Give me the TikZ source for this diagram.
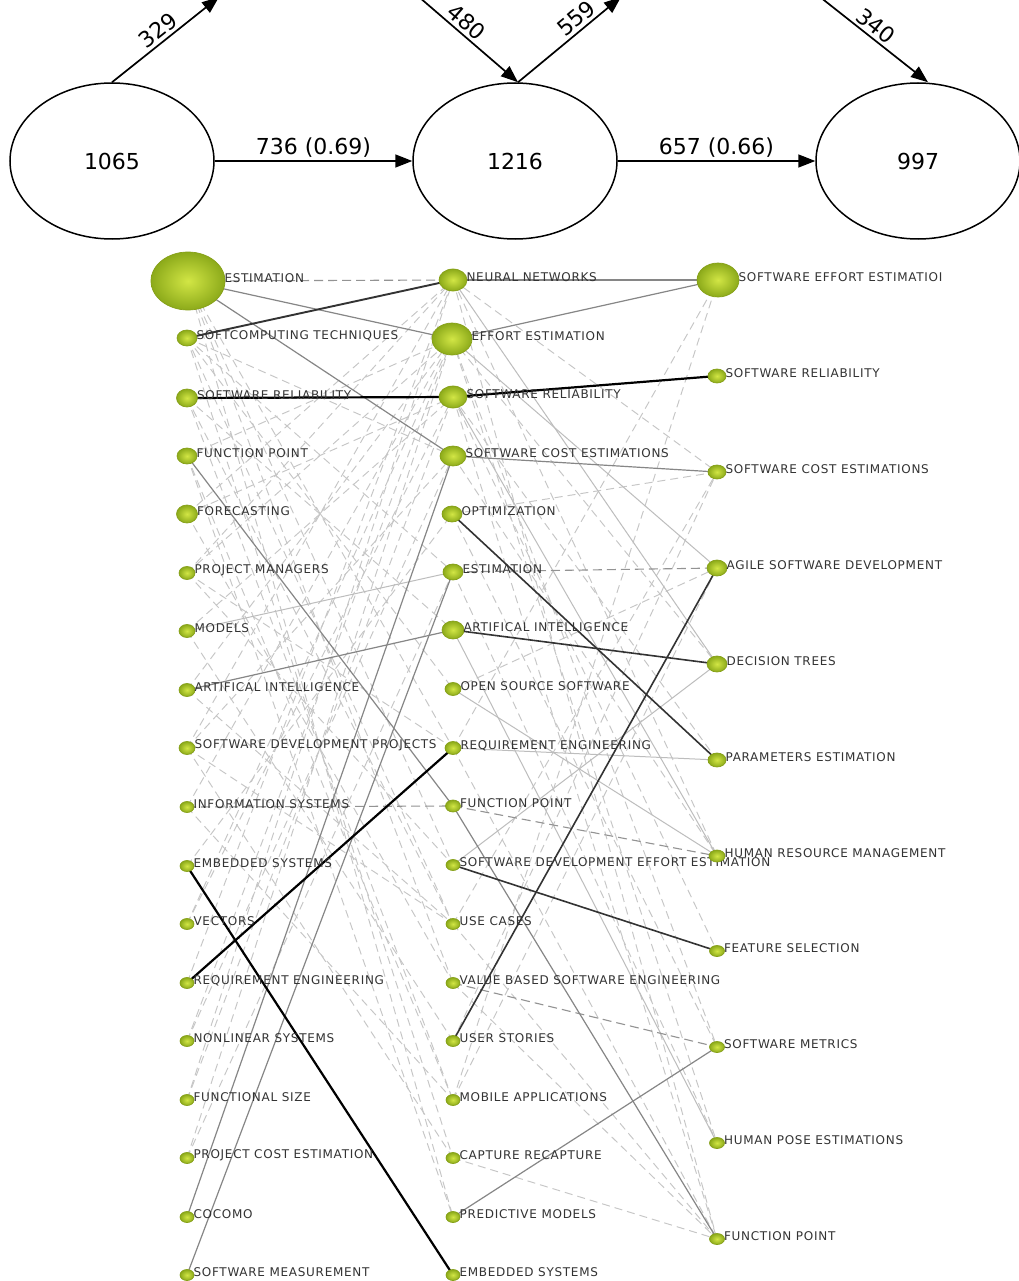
\documentclass[tikz,border=0pt]{standalone}
\usepackage{fontspec}
\setmainfont{DejaVu Sans}
\newfontfamily\labfont[LetterSpace=6]{DejaVu Sans}
\usetikzlibrary{shapes.geometric,arrows.meta}
\pgfdeclarelayer{bg}
\pgfdeclarelayer{paper}
\pgfsetlayers{paper,bg,main}
\definecolor{labgray}{HTML}{333333}
\definecolor{ballin}{HTML}{D2E645}
\definecolor{ballout}{HTML}{8CAA1A}
\definecolor{ballrim}{HTML}{86A018}
\definecolor{lightdash}{HTML}{C6C6C6}
\definecolor{lightline}{HTML}{BDBDBD}
\definecolor{midline}{HTML}{868686}
\definecolor{middash}{HTML}{939393}
\definecolor{darkline}{HTML}{333333}
\tikzset{
  bigell/.style={ellipse, draw=black, line width=1.5pt, minimum width=204pt, minimum height=156pt, inner sep=0pt, font=\fontsize{22}{26}\selectfont},
  flow/.style={line width=1.7pt, -{Triangle[length=17pt,width=13pt]}},
  flowlab/.style={font=\fontsize{22}{26}\selectfont, inner sep=3pt},
  gball/.style={ellipse, inner sep=0pt, draw=ballrim, line width=0.7pt, shading=radial, inner color=ballin, outer color=ballout},
  lab/.style={font=\labfont\fontsize{12}{14}\selectfont, text=labgray, inner sep=0pt, anchor=west},
  e0/.style={draw=lightdash, line width=0.95pt, dash pattern=on 8pt off 5pt},
  e1/.style={draw=lightline, line width=1pt},
  e2/.style={draw=midline, line width=1.2pt},
  e3/.style={draw=darkline, line width=1.6pt},
  e4/.style={draw=black, line width=2.2pt},
  ed/.style={draw=middash, line width=1.1pt, dash pattern=on 9pt off 5pt}
}
\newcommand\gnode[6]{%
  \node[gball, minimum width=#4pt, minimum height=#5pt] (#1) at (#2,#3) {};
  \node[lab] (#1t) at ([xshift=-1pt,yshift=2.5pt]#1.east) {#6};
}
\begin{document}
\begin{tikzpicture}[x=1pt,y=-1pt]
\useasboundingbox (0,0) rectangle (1018,1281);
\begin{pgfonlayer}{paper}
\fill[white] (0,0) rectangle (1018,1281);
\end{pgfonlayer}

% ---------- top flow ----------
\node[bigell] (E1) at (112,161) {1065};
\node[bigell] (E2) at (515,161) {1216};
\node[bigell] (E3) at (918,161) {997};
\coordinate (T1) at (219,-3);
\coordinate (T2) at (419,-3);
\coordinate (T3) at (621,-3);
\coordinate (T4) at (820,-3);
\draw[flow] (E1.east) -- node[flowlab, above] {736 (0.69)} (E2.west);
\draw[flow] (E2.east) -- node[flowlab, above] {657 (0.66)} (E3.west);
\draw[flow] (E1.north) -- node[flowlab, sloped, above, pos=0.5] {329} (T1);
\draw[flow] (T2) -- node[flowlab, sloped, above, pos=0.4] {480} ([xshift=3pt]E2.north);
\draw[flow] ([xshift=3pt]E2.north) -- node[flowlab, sloped, above, pos=0.64] {559} (T3);
\draw[flow] (T4) -- node[flowlab, sloped, above, pos=0.45] {340} ([xshift=10pt]E3.north);

% ---------- left column ----------
\gnode{L1}{188}{281}{74}{58}{ESTIMATION}
\gnode{L2}{187}{338}{20}{16}{SOFTCOMPUTING TECHNIQUES}
\gnode{L3}{187}{398}{21}{18}{SOFTWARE RELIABILITY}
\gnode{L4}{187}{456}{20}{16}{FUNCTION POINT}
\gnode{L5}{187}{514}{21}{18}{FORECASTING}
\gnode{L6}{187}{573}{16}{13}{PROJECT MANAGERS}
\gnode{L7}{187}{631}{16}{13}{MODELS}
\gnode{L8}{187}{690}{16}{13}{ARTIFICAL INTELLIGENCE}
\gnode{L9}{187}{748}{16}{13}{SOFTWARE DEVELOPMENT PROJECTS}
\gnode{L10}{187}{807}{14}{11}{INFORMATION SYSTEMS}
\gnode{L11}{187}{866}{14}{11}{EMBEDDED SYSTEMS}
\gnode{L12}{187}{924}{14}{11}{VECTORS}
\gnode{L13}{187}{983}{14}{11}{REQUIREMENT ENGINEERING}
\gnode{L14}{187}{1041}{14}{11}{NONLINEAR SYSTEMS}
\gnode{L15}{187}{1100}{14}{11}{FUNCTIONAL SIZE}
\gnode{L16}{187}{1158}{14}{11}{PROJECT COST ESTIMATION}
\gnode{L17}{187}{1217}{14}{11}{COCOMO}
\gnode{L18}{187}{1275}{14}{11}{SOFTWARE MEASUREMENT}

% ---------- middle column ----------
\gnode{M1}{453}{280}{28}{22}{NEURAL NETWORKS}
\gnode{M2}{452}{339}{40}{32}{EFFORT ESTIMATION}
\gnode{M3}{453}{397}{28}{22}{SOFTWARE RELIABILITY}
\gnode{M4}{453}{456}{26}{20}{SOFTWARE COST ESTIMATIONS}
\gnode{M5}{452}{514}{20}{16}{OPTIMIZATION}
\gnode{M6}{453}{572}{20}{16}{ESTIMATION}
\gnode{M7}{453}{630}{22}{18}{ARTIFICAL INTELLIGENCE}
\gnode{M8}{453}{689}{16}{13}{OPEN SOURCE SOFTWARE}
\gnode{M9}{453}{748}{16}{13}{REQUIREMENT ENGINEERING}
\gnode{M10}{453}{806}{15}{12}{FUNCTION POINT}
\gnode{M11}{453}{865}{14}{11}{SOFTWARE DEVELOPMENT EFFORT ESTIMATION}
\gnode{M12}{453}{924}{14}{11}{USE CASES}
\gnode{M13}{453}{983}{14}{11}{VALUE BASED SOFTWARE ENGINEERING}
\gnode{M14}{453}{1041}{14}{11}{USER STORIES}
\gnode{M15}{453}{1100}{14}{11}{MOBILE APPLICATIONS}
\gnode{M16}{453}{1158}{14}{11}{CAPTURE RECAPTURE}
\gnode{M17}{453}{1217}{14}{11}{PREDICTIVE MODELS}
\gnode{M18}{453}{1275}{14}{11}{EMBEDDED SYSTEMS}

% ---------- right column ----------
\gnode{R1}{718}{280}{42}{34}{SOFTWARE EFFORT ESTIMATIOI}
\gnode{R2}{717}{376}{18}{14}{SOFTWARE RELIABILITY}
\gnode{R3}{717}{472}{18}{14}{SOFTWARE COST ESTIMATIONS}
\gnode{R4}{717}{568}{20}{16}{AGILE SOFTWARE DEVELOPMENT}
\gnode{R5}{717}{664}{20}{16}{DECISION TREES}
\gnode{R6}{717}{760}{18}{14}{PARAMETERS ESTIMATION}
\gnode{R7}{717}{856}{16}{12}{HUMAN RESOURCE MANAGEMENT}
\gnode{R8}{717}{951}{15}{11}{FEATURE SELECTION}
\gnode{R9}{717}{1047}{15}{11}{SOFTWARE METRICS}
\gnode{R10}{717}{1143}{15}{11}{HUMAN POSE ESTIMATIONS}
\gnode{R11}{717}{1239}{15}{11}{FUNCTION POINT}

% ---------- connectors ----------
\begin{pgfonlayer}{bg}
\foreach \a/\b in {L2/M4, L2/M6, L2/M16, L2/M8, L3/M15, L3/M12, L4/M2, L4/M17,
  L5/M1, L5/M3, L5/M13, L6/M2, L6/M1, L6/M11, L7/M3, L7/M14, L8/M2, L8/M12,
  L9/M1, L9/M4, L9/M16, L10/M2, L10/M15, L12/M2, L12/M3, L13/M1, L14/M2,
  L14/M4, L15/M1, L15/M3, L16/M2, L16/M6, L1/M9, L1/M17, L1/M13, L2/M12,
  L6/M9, L9/M12, L11/M5, L3/M7, L1/M11, L4/M15,
  M1/R7, M1/R11, M1/R3, M2/R10, M2/R9, M3/R11, M3/R6, M5/R3, M8/R4, M9/R1,
  M12/R3, M15/R1, M15/R4, M16/R11, M13/R11, M12/R11, M9/R11, M4/R7, M2/R5,
  M3/R8, M14/R3, M6/R10, M5/R9}
  \draw[e0] (\a.center) -- (\b.center);
\foreach \a/\b in {M2/R4, L7/M6, M7/R10, M8/R7, M9/R6, M11/R5, M1/R5, M3/R7}
  \draw[e1] (\a.center) -- (\b.center);
\foreach \a/\b in {L1/M1, L10/M10, M10/R7, M13/R9, M6/R4}
  \draw[ed] (\a.center) -- (\b.center);
\foreach \a/\b in {L1/M2, L1/M4, L4/M10, M4/L17, M6/L18, M1/R1, M2/R1, L8/M7,
  M17/R9, M10/R11, M4/R3}
  \draw[e2] (\a.center) -- (\b.center);
\foreach \a/\b in {M5/R6, M11/R8, M14/R4, M7/R5}
  \draw[e3] (\a.center) -- (\b.center);
\foreach \a/\b in {L3/M3, M3/R2, L13/M9, L11/M18}
  \draw[e4] (\a.center) -- (\b.center);
\draw[e3, line width=1.9pt] (L2.center) -- (M1.center);
\end{pgfonlayer}
\end{tikzpicture}
\end{document}
